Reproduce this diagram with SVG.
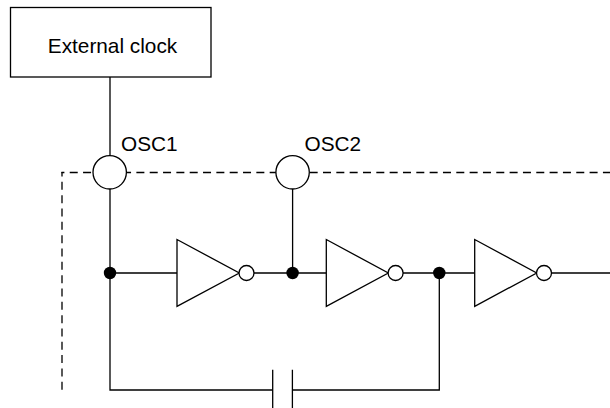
<svg xmlns="http://www.w3.org/2000/svg" width="610" height="408" viewBox="0 0 610 408">
<style>
.l{fill:none;stroke:#000;stroke-width:1.3}
.s{fill:#fff;stroke:#000;stroke-width:1.3}
.d{fill:#000;stroke:none}
.h{fill:none;stroke:#000;stroke-width:1.3;stroke-dasharray:8 5.330}
text{font-family:"Liberation Sans",Arial,sans-serif;font-size:20.800px;fill:#000}
</style>
<rect width="610" height="408" fill="#fff"/>
<g id="boundary"><path class="h" stroke-dashoffset="5" d="M61.400 172.500H610"/><path class="h" stroke-dashoffset="3.500" d="M62 172V390"/></g>
<g id="connectors">
<path class="l" d="M110 77V156M110 189V390H272.700M292.400 390H439.300V273M110 273H177M240 273H326.300M292.600 273V189M388 273H474.700M552 273H610"/>
</g>
<g id="external-clock"><rect class="s" x="10.500" y="7.500" width="200.500" height="69.500"/><text x="112.500" y="52.500" text-anchor="middle">External clock</text></g>
<g id="osc1"><circle class="s" cx="109.700" cy="172.300" r="16.700"/><text x="121" y="151">OSC1</text></g>
<g id="osc2"><circle class="s" cx="292.600" cy="172.300" r="16.700"/><text x="304.500" y="151">OSC2</text></g>
<g id="junction-1"><circle class="d" cx="110" cy="273" r="6.200"/></g>
<g id="junction-2"><circle class="d" cx="292.600" cy="273" r="6.200"/></g>
<g id="junction-3"><circle class="d" cx="439.300" cy="273" r="6.200"/></g>
<g id="inverter-1"><path class="s" d="M177 239.500V306.300L239.300 273Z"/><circle class="s" cx="246.500" cy="273" r="7.500"/></g>
<g id="inverter-2"><path class="s" d="M326.300 239.500V306.300L388.300 273Z"/><circle class="s" cx="395.600" cy="273" r="7.500"/></g>
<g id="inverter-3"><path class="s" d="M474.700 239.500V306.300L536.700 273Z"/><circle class="s" cx="544" cy="273" r="7.500"/></g>
<g id="capacitor"><path class="l" d="M272.700 369.700V408M292.400 369.700V408"/></g>
</svg>
